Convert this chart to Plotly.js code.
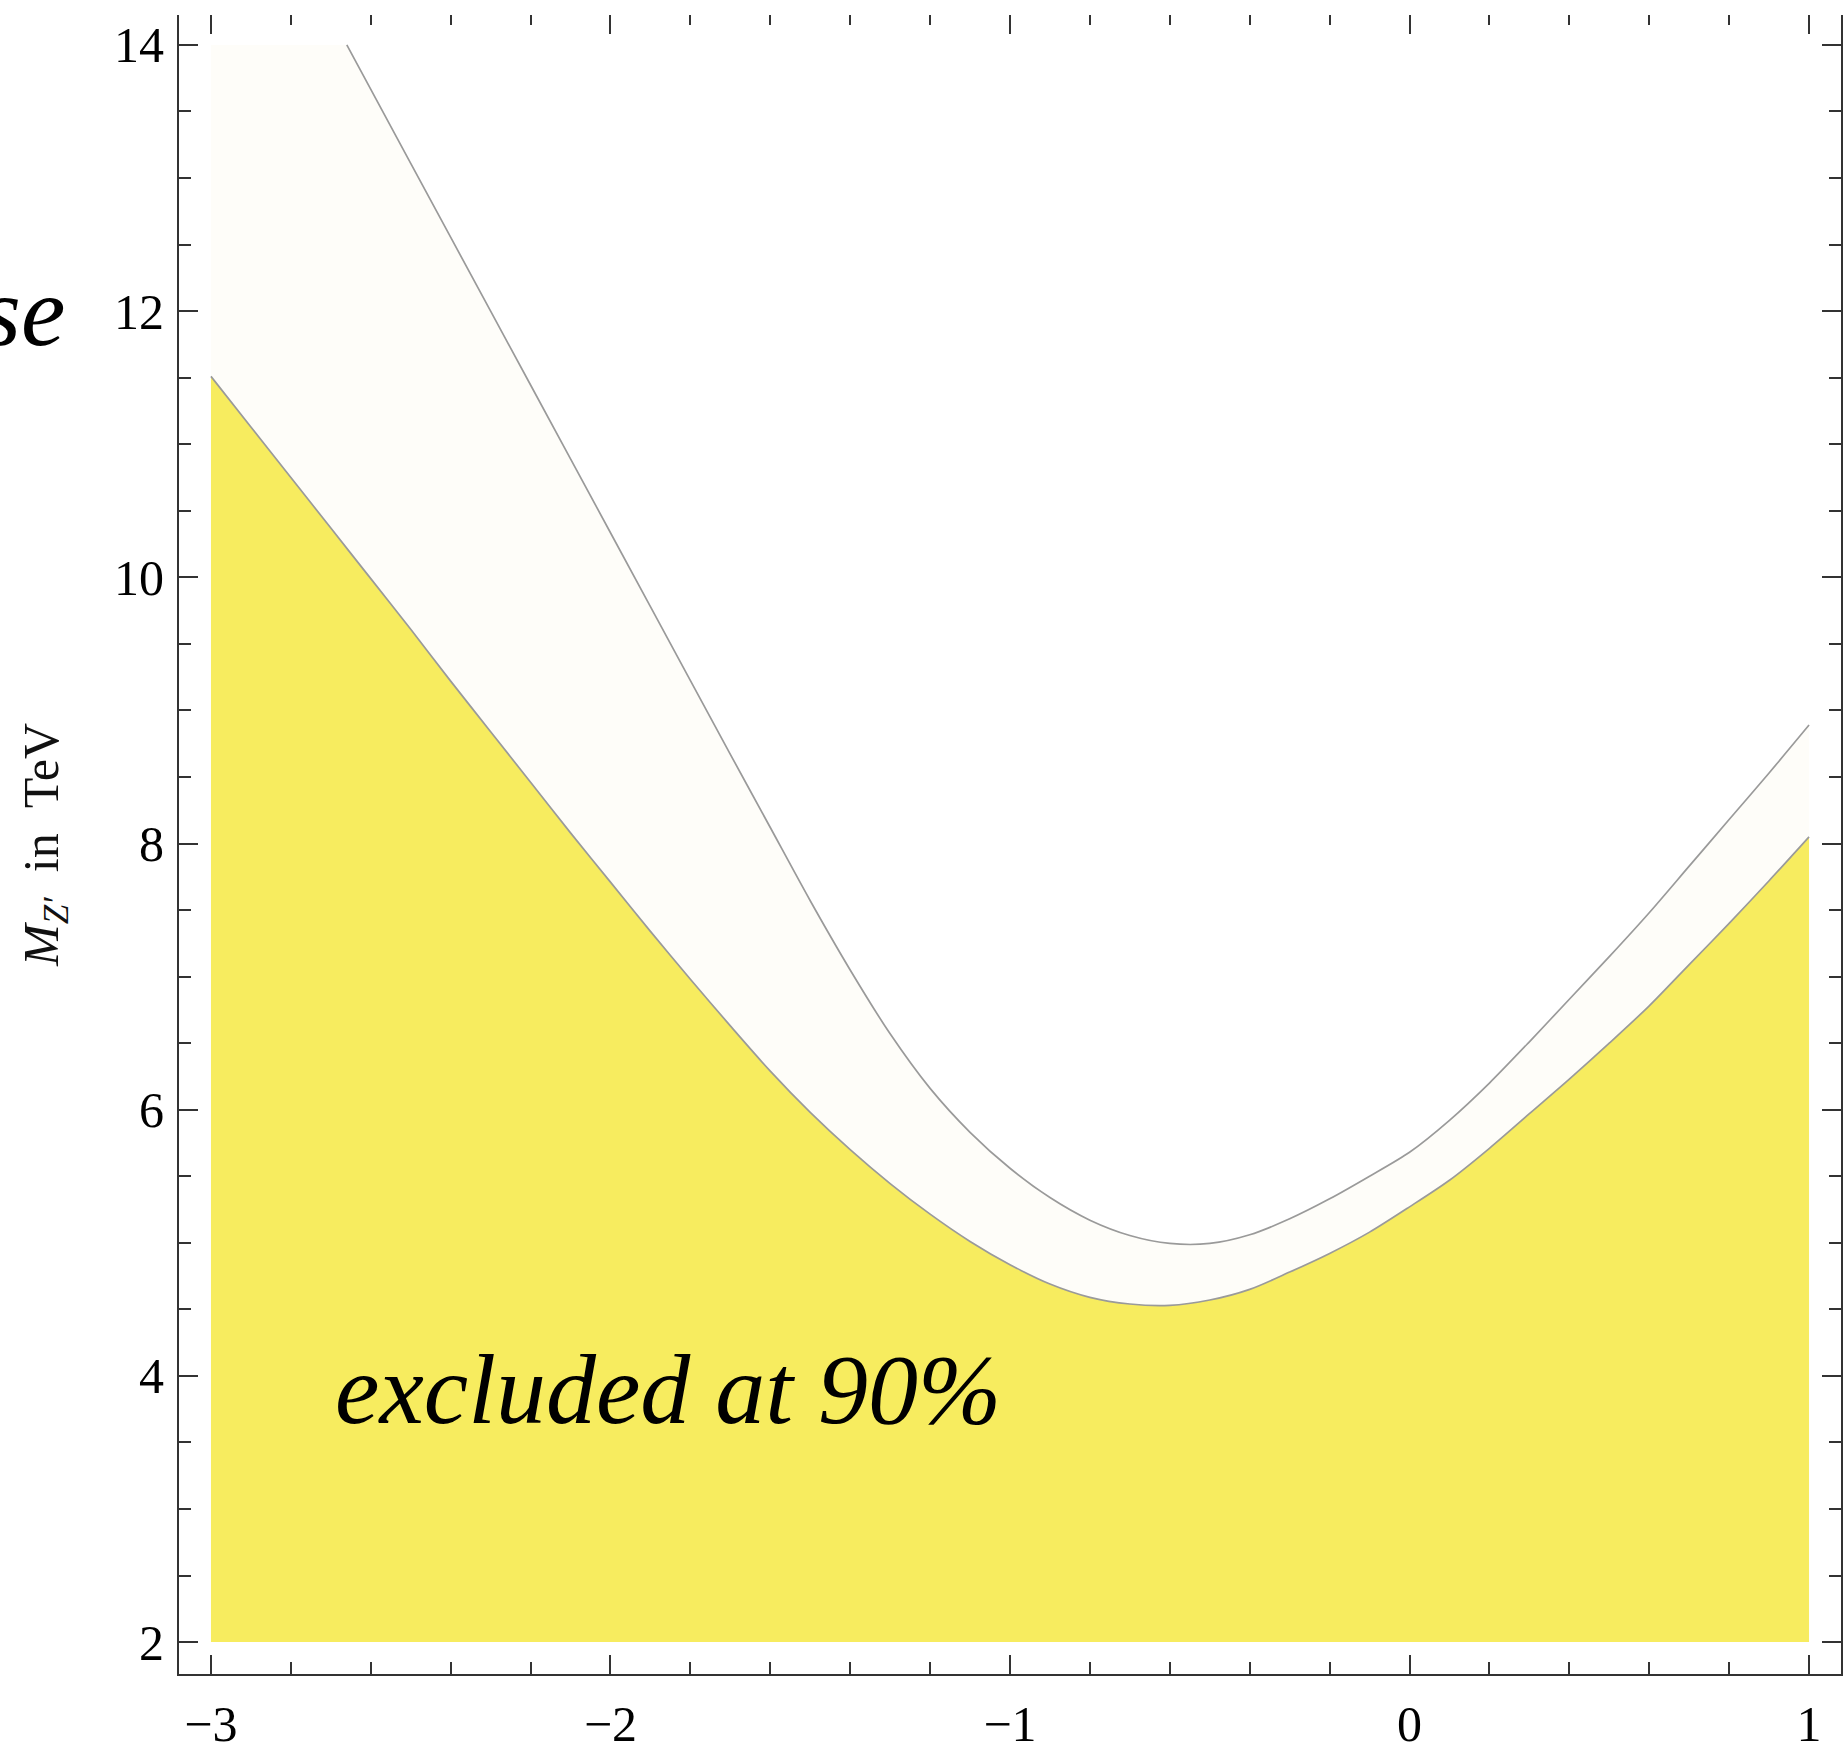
<!DOCTYPE html>
<html>
<head>
<meta charset="utf-8">
<script src="https://cdn.plot.ly/plotly-3.0.1.min.js"></script>
<style>
  html, body { margin: 0; padding: 0; background: #ffffff; }
  #chart { width: 1844px; height: 1751px; }
</style>
</head>
<body>
<div id="chart"></div>
<script>
// ---- data ----
const xMin = -3, xMax = 1, yMin = 2, yMax = 14;

// lower boundary (edge of the excluded, yellow region)
const lowerX = [-3.0, -2.9, -2.8, -2.7, -2.6, -2.5, -2.4, -2.3, -2.2, -2.1, -2.0, -1.9, -1.8, -1.7, -1.6, -1.5, -1.4, -1.3, -1.2, -1.1, -1.0, -0.9, -0.8, -0.7, -0.6, -0.5, -0.4, -0.3, -0.2, -0.1, 0.0, 0.1, 0.2, 0.3, 0.4, 0.5, 0.6, 0.7, 0.8, 0.9, 1.0];
const lowerY = [11.51, 11.13, 10.75, 10.37, 9.99, 9.61, 9.22, 8.84, 8.46, 8.08, 7.71, 7.34, 6.98, 6.63, 6.29, 5.98, 5.70, 5.445, 5.215, 5.01, 4.835, 4.69, 4.59, 4.54, 4.53, 4.57, 4.65, 4.78, 4.92, 5.08, 5.27, 5.47, 5.71, 5.97, 6.23, 6.50, 6.78, 7.09, 7.40, 7.72, 8.05];

// upper boundary (grey curve)
const upperX = [-2.66, -2.5, -2.3, -2.1, -1.9, -1.7, -1.6, -1.5, -1.4, -1.3, -1.2, -1.1, -1.0, -0.9, -0.8, -0.7, -0.6, -0.5, -0.4, -0.3, -0.2, -0.1, 0.0, 0.1, 0.2, 0.3, 0.4, 0.5, 0.6, 0.7, 0.8, 0.9, 1.0];
const upperY = [14.0, 13.11, 12.0, 10.89, 9.78, 8.67, 8.12, 7.57, 7.05, 6.57, 6.16, 5.83, 5.56, 5.34, 5.17, 5.055, 4.995, 4.995, 5.06, 5.18, 5.33, 5.50, 5.68, 5.92, 6.20, 6.51, 6.83, 7.15, 7.48, 7.83, 8.18, 8.53, 8.89];

const xTickVals = [-3, -2, -1, 0, 1];
const yTickVals = [2, 4, 6, 8, 10, 12, 14];

const yellow = '#f7ec5f';
const cream = '#fefdf9';
const curveGrey = '#9a9a9a';
const axisColor = '#333333';
const serif = 'Liberation Serif, Times New Roman, serif';

const traces = [
  { x: [xMin, xMax], y: [yMin, yMin], mode: 'lines', line: { width: 0, color: 'rgba(0,0,0,0)' },
    hoverinfo: 'skip', showlegend: false },
  { x: lowerX, y: lowerY, mode: 'lines', fill: 'tonexty', fillcolor: yellow,
    line: { color: curveGrey, width: 1.7, shape: 'spline', smoothing: 0.8 }, hoverinfo: 'skip', showlegend: false },
  { x: [xMin].concat(upperX), y: [yMax].concat(upperY), mode: 'lines', fill: 'tonexty', fillcolor: cream,
    line: { width: 0, color: 'rgba(0,0,0,0)' }, hoverinfo: 'skip', showlegend: false },
  { x: upperX, y: upperY, mode: 'lines', xaxis: 'x2',
    line: { color: curveGrey, width: 1.7, shape: 'spline', smoothing: 0.8 }, hoverinfo: 'skip', showlegend: false }
];

const tickCommon = {
  ticks: 'inside', ticklen: 19, tickwidth: 2, tickcolor: axisColor,
  showgrid: false, zeroline: false
};
const xRange = [-3.08, 1.08];

const layout = {
  width: 1844, height: 1751,
  margin: { l: 179, r: 3, t: 15, b: 77, pad: 0 },
  paper_bgcolor: '#ffffff', plot_bgcolor: '#ffffff',
  showlegend: false,
  xaxis: Object.assign({}, tickCommon, {
    range: xRange, tickvals: xTickVals, ticktext: xTickVals.map(v => v < 0 ? '\u2212' + Math.abs(v) : String(v)),
    showline: true, linecolor: axisColor, linewidth: 2, mirror: false,
    tickfont: { family: serif, size: 50, color: '#000000' }, ticklabelstandoff: 5,
    minor: { dtick: 0.2, tick0: 0, ticks: 'inside', ticklen: 12, tickwidth: 2, tickcolor: axisColor, showgrid: false }
  }),
  xaxis2: Object.assign({}, tickCommon, {
    range: xRange, overlaying: 'x', side: 'top', anchor: 'y', tickvals: xTickVals,
    showticklabels: false, showline: false,
    minor: { dtick: 0.2, tick0: 0, ticks: 'inside', ticklen: 10, tickwidth: 2, tickcolor: axisColor, showgrid: false }
  }),
  yaxis: Object.assign({}, tickCommon, {
    range: [1.76, 14.225], tickvals: yTickVals,
    showline: true, linecolor: axisColor, linewidth: 2, mirror: 'ticks',
    tickfont: { family: serif, size: 50, color: '#000000' }, ticklabelstandoff: 3,
    minor: { dtick: 0.5, tick0: 0, ticks: 'inside', ticklen: 12, tickwidth: 2, tickcolor: axisColor, showgrid: false },
    title: { text: '<i>M</i><sub><i>Z\u2032</i></sub>\u00a0\u00a0in\u00a0\u00a0TeV', font: { family: serif, size: 50, color: '#111111' }, standoff: 40 }
  }),
  annotations: [
    { text: '<i>excluded at 90%</i>', xref: 'x', yref: 'y', x: -2.695, y: 3.9, xanchor: 'left', yanchor: 'middle',
      showarrow: false, font: { family: serif, size: 100, color: '#000000' } },
    { text: '<i>se</i>', xref: 'paper', yref: 'y', x: (67 - 179) / 1662, y: 12.0, xanchor: 'right', yanchor: 'middle',
      showarrow: false, font: { family: serif, size: 100, color: '#000000' } }
  ]
};

Plotly.newPlot('chart', traces, layout, { staticPlot: true, displayModeBar: false });
</script>
</body>
</html>
